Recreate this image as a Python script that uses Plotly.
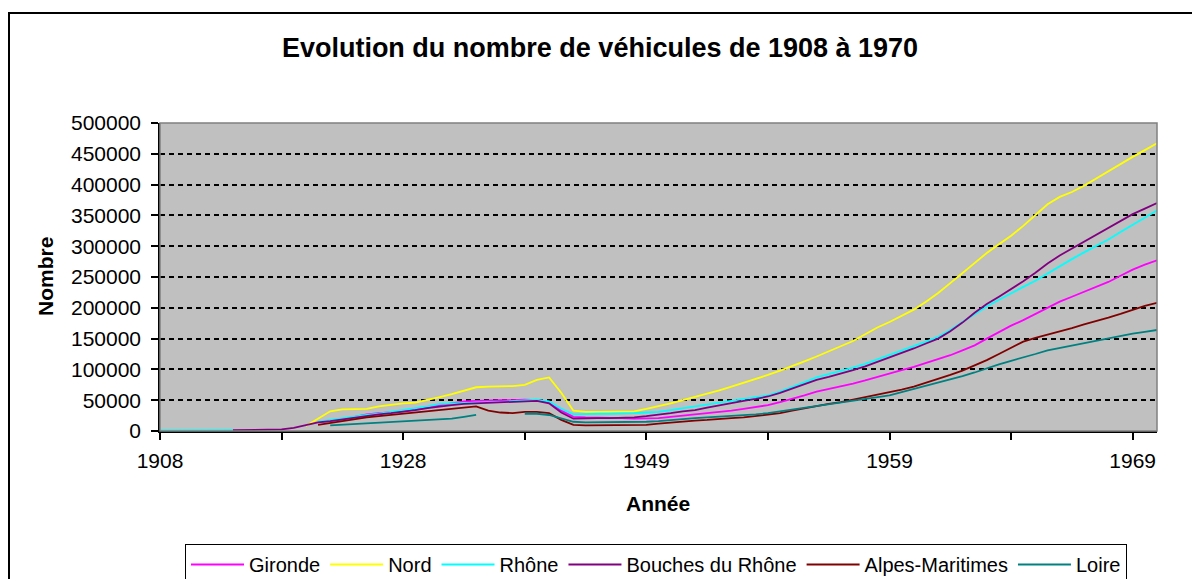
import plotly.graph_objects as go

# Category labels (one per data point, as in the source spreadsheet)
annees = [
    "1908", "1909", "1910", "1911", "1912", "1913", "1914", "1915", "1916", "1917",
    "1918", "1919", "1920", "1921", "1922", "1923", "1924", "1925", "1926", "1927",
    "1928", "1929", "1930", "1931", "1932", "1933", "1934", "1935", "1936", "1937",
    "1938", "1939", "1940", "1941", "1942", "1943", "1945", "1946", "1947", "1948",
    "1949", "1949", "1950", "1950", "1951", "1951", "1952", "1952", "1953", "1953",
    "1954", "1954", "1955", "1955", "1956", "1956", "1957", "1957", "1958", "1958",
    "1959", "1959", "1960", "1960", "1961", "1961", "1962", "1962", "1963", "1963",
    "1964", "1964", "1965", "1965", "1966", "1966", "1967", "1967", "1968", "1968",
    "1969", "1969", "1970",
]

gironde = [
    None, None, None, None, None, None, None, None, None, None,
    None, None, None, 14000, 16000, 19000, 23000, 27000, 29000, 30000,
    32000, 35000, 38000, 42000, 45000, 48000, 49000, 50000, 50000, 50000,
    51000, 50000, 46000, 33000, 23000, 22000, 22000, 22000, 21000, 20000,
    20000, 21000, 23000, 25000, 26000, 28000, 30000, 33000, 36000, 39000,
    42000, 47000, 52000, 58000, 64000, 68000, 72000, 77000, 82000, 88000,
    94000, 99000, 104000, 110000, 116000, 123000, 131000, 139000, 150000, 161000,
    171000, 180000, 190000, 200000, 210000, 218000, 226000, 233000, 242000, 252000,
    262000, 270000, 277000,
]

nord = [
    None, None, None, None, None, None, None, None, None, None,
    None, None, 8000, 20000, 32000, 35000, 35000, 36000, 40000, 43000,
    45000, 46000, 50000, 55000, 60000, 66000, 71000, 72000, 72000, 73000,
    75000, 83000, 87000, 62000, 33000, 31000, 31000, 31000, 31000, 32000,
    36000, 40000, 45000, 50000, 55000, 60000, 66000, 72000, 78000, 84000,
    91000, 98000, 105000, 113000, 121000, 129000, 137000, 146000, 157000, 168000,
    177000, 187000, 197000, 210000, 224000, 240000, 256000, 272000, 289000, 303000,
    317000, 333000, 350000, 368000, 380000, 388000, 398000, 410000, 422000, 434000,
    445000, 456000, 467000,
]

rhone = [
    1000, 1100, 1200, 1200, 1300, 1400, 1500, None, None, None,
    None, None, None, 15000, 18000, 20000, 23000, 26000, 28000, 31000,
    33000, 36000, 40000, 44000, 45000, 46000, 46000, 46000, 47000, 48000,
    50000, 51000, 48000, 36000, 27000, 28000, 28000, 28000, 28000, 29000,
    30000, 31000, 34000, 37000, 40000, 43000, 45000, 48000, 51000, 54000,
    58000, 64000, 71000, 79000, 87000, 92000, 97000, 103000, 109000, 116000,
    124000, 131000, 138000, 145000, 153000, 164000, 177000, 190000, 202000, 213000,
    224000, 234000, 244000, 256000, 268000, 279000, 290000, 300000, 311000, 323000,
    335000, 347000, 358000,
]

bouches_du_rhone = [
    None, None, None, None, None, None, 1500, 1800, 2000, 2200,
    2500, 5000, 10000, 14000, 16000, 19000, 22000, 25000, 27000, 29000,
    31000, 34000, 37000, 40000, 42000, 44000, 45000, 46000, 47000, 48000,
    49000, 49000, 45000, 30000, 20000, 21000, 21000, 21000, 21000, 22000,
    24000, 26000, 29000, 32000, 34000, 38000, 42000, 45000, 49000, 52000,
    56000, 62000, 69000, 76000, 83000, 88000, 93000, 99000, 105000, 112000,
    119000, 126000, 134000, 142000, 150000, 162000, 176000, 192000, 206000, 218000,
    230000, 243000, 257000, 272000, 285000, 296000, 307000, 318000, 330000, 341000,
    352000, 361000, 370000,
]

alpes_maritimes = [
    None, None, None, None, None, None, None, None, None, None,
    None, None, None, 10000, 13000, 16000, 20000, 22000, 24000, 26000,
    28000, 30000, 32000, 34000, 36000, 38000, 40000, 33000, 30000, 29000,
    31000, 31000, 29000, 18000, 10000, 9000, 9000, 9000, 9000, 9000,
    10000, 12000, 14000, 15000, 17000, 18000, 20000, 21000, 22000, 24000,
    26000, 29000, 33000, 37000, 40000, 44000, 47000, 51000, 55000, 58000,
    62000, 67000, 72000, 78000, 84000, 91000, 98000, 106000, 115000, 125000,
    135000, 145000, 151000, 156000, 161000, 167000, 173000, 178000, 184000, 190000,
    197000, 203000, 208000,
]

loire = [
    None, None, None, None, None, None, None, None, None, None,
    None, None, None, None, 9000, 10000, 11000, 12000, 13000, 14000,
    16000, 17000, 18000, 19000, 20000, 23000, 26000, None, None, None,
    28000, 28000, 26000, 20000, 15000, 14000, 14000, 14000, 14000, 14000,
    15000, 16000, 18000, 19000, 21000, 22000, 23000, 24000, 26000, 27000,
    29000, 32000, 35000, 38000, 41000, 44000, 47000, 49000, 52000, 55000,
    58000, 63000, 68000, 73000, 78000, 83000, 89000, 95000, 102000, 108000,
    114000, 119000, 125000, 131000, 135000, 139000, 143000, 147000, 151000, 155000,
    158000, 161000, 164000,
]

series_names = ["Gironde", "Nord", "Rhône", "Bouches du Rhône", "Alpes-Maritimes", "Loire"]
series_values = [gironde, nord, rhone, bouches_du_rhone, alpes_maritimes, loire]
series_colors = ["#FF00FF", "#FFFF00", "#00FFFF", "#800080", "#800000", "#008080"]

y_ticks = [0, 50000, 100000, 150000, 200000, 250000, 300000, 350000, 400000, 450000, 500000]

FONT = "Arial, 'Liberation Sans', sans-serif"

idx = list(range(len(annees)))
tick_pos = idx[::10]
tick_txt = [annees[i] if i % 20 == 0 else "" for i in tick_pos]

fig = go.Figure()
for name, vals, col in zip(series_names, series_values, series_colors):
    fig.add_trace(go.Scatter(
        x=idx, y=vals, name=name, mode="lines",
        line=dict(color=col, width=1.8),
        connectgaps=False,
    ))

# The page body adds an 8px offset; targets below are in screen pixels.
OFF = 8
W, H = 1200, 579
PLOT_L, PLOT_R, PLOT_T, PLOT_B = 160, 1157, 123, 431   # screen pixels
L = PLOT_L - OFF
T = PLOT_T - OFF
R = W - (PLOT_R - OFF)
B = H - (PLOT_B - OFF)
pw, ph = PLOT_R - PLOT_L, PLOT_B - PLOT_T


def px_x(sx):
    return (sx - PLOT_L) / pw


def px_y(sy):
    return (PLOT_B - sy) / ph


def cx(sx):
    return (sx - OFF) / W


def cy(sy):
    return 1 - (sy - OFF) / H


fig.update_layout(
    width=W, height=H, autosize=False,
    margin=dict(l=L, r=R, t=T, b=B, pad=0, autoexpand=False),
    paper_bgcolor="white",
    plot_bgcolor="#C0C0C0",
    font=dict(family=FONT, size=21, color="black"),
    title=dict(
        text="<b>Evolution du nombre de véhicules de 1908 à 1970</b>",
        x=cx(600), xref="container", xanchor="center",
        y=cy(48), yref="container", yanchor="middle",
        font=dict(family=FONT, size=27, color="black"),
    ),
    showlegend=True,
    legend=dict(
        orientation="h",
        xref="container", x=cx(656), xanchor="center",
        yref="container", y=cy(544), yanchor="top",
        bgcolor="white", bordercolor="black", borderwidth=1,
        font=dict(family=FONT, size=20, color="black"),
        itemwidth=53,
        traceorder="normal",
    ),
    xaxis=dict(
        range=[0, len(annees) - 1],
        tickmode="array", tickvals=tick_pos, ticktext=tick_txt,
        ticks="outside", ticklen=7, tickwidth=1.5, tickcolor="black",
        showline=True, linecolor="black", linewidth=1.5,
        showgrid=False, zeroline=False,
        ticklabelstandoff=3,
        automargin=False,
        tickfont=dict(family=FONT, size=21, color="black"),
    ),
    yaxis=dict(
        range=[0, 500000],
        tickmode="array", tickvals=y_ticks, ticktext=[str(v) for v in y_ticks],
        ticks="outside", ticklen=7, tickwidth=1.5, tickcolor="black",
        showline=True, linecolor="black", linewidth=1.5,
        showgrid=True, gridcolor="black", gridwidth=1.5, griddash="5px,4px",
        zeroline=False,
        ticklabelstandoff=6,
        automargin=False,
        tickfont=dict(family=FONT, size=21, color="black"),
    ),
    annotations=[
        dict(text="<b>Nombre</b>", textangle=-90, showarrow=False,
             xref="paper", yref="paper", x=px_x(45), y=px_y(277),
             xanchor="center", yanchor="middle",
             font=dict(family=FONT, size=21, color="black")),
        dict(text="<b>Année</b>", showarrow=False,
             xref="paper", yref="paper", x=px_x(658), y=px_y(503),
             xanchor="center", yanchor="middle",
             font=dict(family=FONT, size=21, color="black")),
    ],
    shapes=[
        # plot-area border (grey)
        dict(type="rect", xref="paper", yref="paper", x0=0, x1=1, y0=0, y1=1,
             line=dict(color="#808080", width=1.5), layer="above"),
        # outer chart border
        dict(type="rect", xref="paper", yref="paper",
             x0=px_x(9), x1=px_x(1197), y0=px_y(610), y1=px_y(13),
             line=dict(color="black", width=2), layer="above"),
    ],
)

fig.write_html("out.html")
